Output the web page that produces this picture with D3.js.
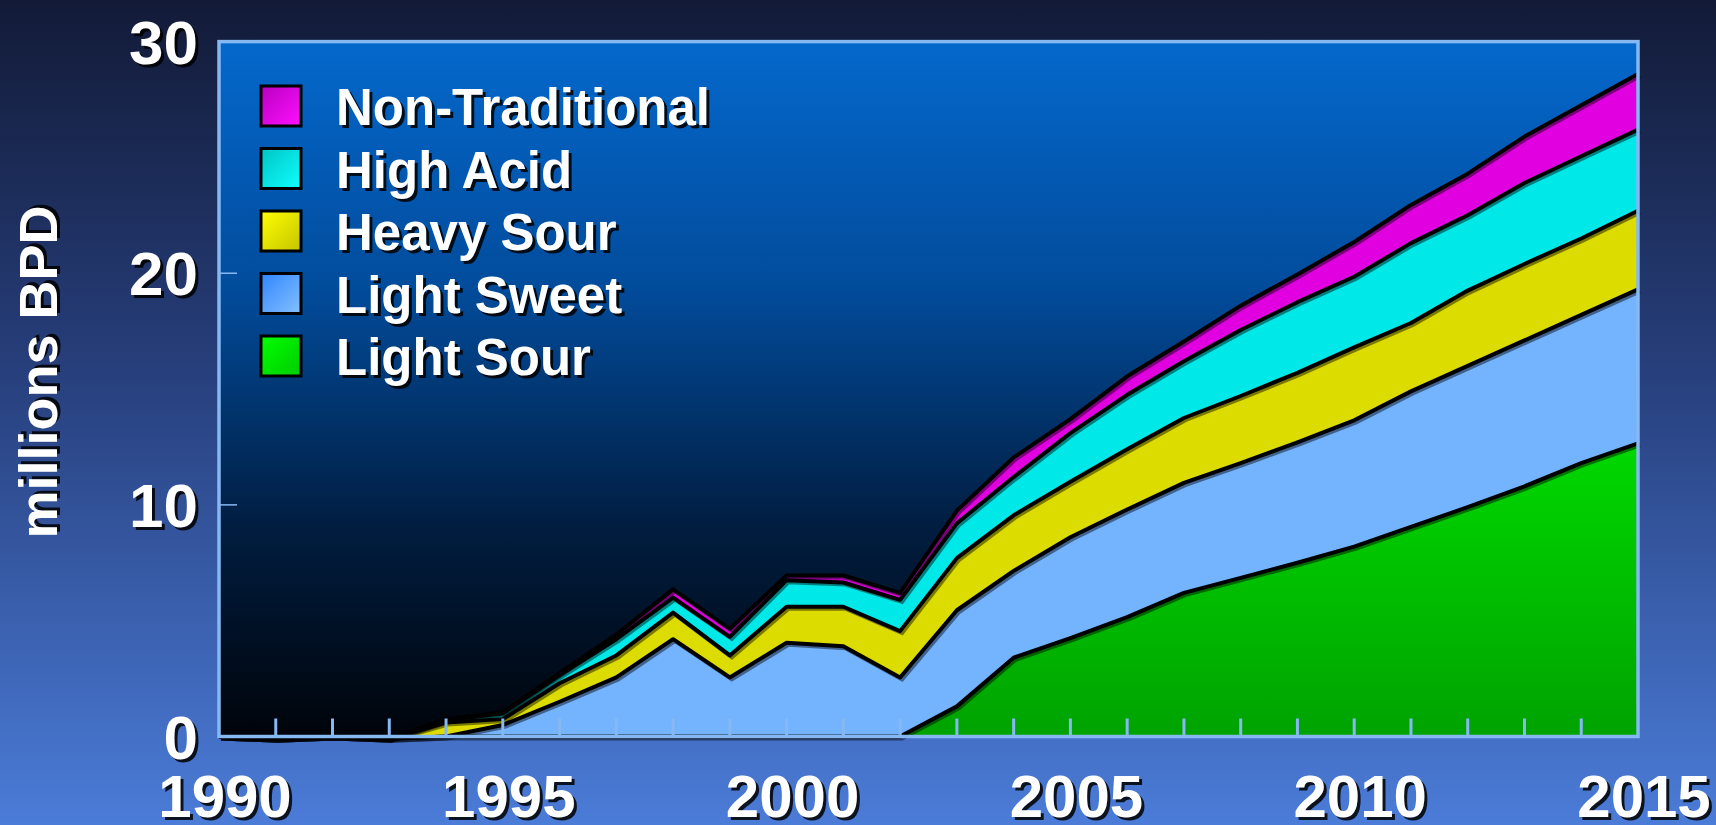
<!DOCTYPE html>
<head>
    <title>Crude supply by type</title>
    <script src="https://cdn.jsdelivr.net/npm/d3@7"></script>
</head>
<style>
html, body {
  margin: 0;
  padding: 0;
  overflow: hidden;
}
body {
  font-family: "Liberation Sans", Arial, Helvetica, sans-serif;
}
</style>
<body>
    <svg id="chart"></svg>
</body>

<script>

    // Data (millions BPD)
    var years = [1990, 1991, 1992, 1993, 1994, 1995, 1996, 1997, 1998, 1999, 2000, 2001, 2002,
                 2003, 2004, 2005, 2006, 2007, 2008, 2009, 2010, 2011, 2012, 2013, 2014, 2015];
    var lightSour     = [0, -0.1, 0, -0.1, 0, 0, 0, 0, 0, 0, 0, 0, 0,
                         1.3, 3.4, 4.25, 5.15, 6.2, 6.85, 7.5, 8.2, 9.05, 9.9, 10.8, 11.8, 12.65];
    var lightSweet    = [0, 0, 0, 0, 0, 0.5, 1.5, 2.55, 4.2, 2.55, 4.05, 3.9, 2.55,
                         4.15, 3.75, 4.35, 4.65, 4.75, 4.95, 5.2, 5.45, 5.85, 6.1, 6.3, 6.4, 6.65];
    var heavySour     = [0, 0, 0, 0, 0.6, 0.25, 0.8, 0.95, 1.15, 0.95, 1.55, 1.7, 2.0,
                         2.25, 2.4, 2.4, 2.6, 2.8, 2.9, 3.0, 3.15, 2.95, 3.25, 3.3, 3.3, 3.4];
    var highAcid      = [0, 0, 0, 0, 0.1, 0.25, 0.35, 0.7, 0.65, 0.8, 1.15, 1.05, 1.35,
                         1.5, 1.65, 2.1, 2.35, 2.45, 2.85, 3.05, 3.05, 3.45, 3.25, 3.5, 3.55, 3.5];
    var nonTraditional = [0, 0, 0, 0, 0.05, 0.05, 0.1, 0.2, 0.35, 0.35, 0.2, 0.3, 0.3,
                          0.55, 0.85, 0.6, 0.8, 0.85, 1.05, 1.2, 1.5, 1.65, 1.8, 2.0, 2.2, 2.4];

    var seriesNames = ["Light Sour", "Light Sweet", "Heavy Sour", "High Acid", "Non-Traditional"];
    var seriesKeys  = ["lightSour", "lightSweet", "heavySour", "highAcid", "nonTraditional"];
    var yTicks = [0, 10, 20, 30];
    var xLabels = [1990, 1995, 2000, 2005, 2010, 2015];

    // build rows for d3.stack
    var rows = years.map(function (yr, i) {
        return {
            year: yr,
            lightSour: lightSour[i],
            lightSweet: lightSweet[i],
            heavySour: heavySour[i],
            highAcid: highAcid[i],
            nonTraditional: nonTraditional[i]
        };
    });

    var width = 1716;
    var height = 825;

    var svg = d3.select('#chart')
        .attr('width', width)
        .attr('height', height);

    var defs = svg.append('defs');

    // page background
    var bg = defs.append('linearGradient').attr('id', 'pageBg')
        .attr('x1', 0).attr('y1', 0).attr('x2', 0).attr('y2', 1);
    bg.append('stop').attr('offset', '0%').attr('stop-color', '#121a37');
    bg.append('stop').attr('offset', '45%').attr('stop-color', '#273f7c');
    bg.append('stop').attr('offset', '100%').attr('stop-color', '#4b7cd8');

    // plot background
    var pbg = defs.append('linearGradient').attr('id', 'plotBg')
        .attr('x1', 0).attr('y1', 0).attr('x2', 0).attr('y2', 1);
    pbg.append('stop').attr('offset', '0%').attr('stop-color', '#0468cc');
    pbg.append('stop').attr('offset', '35%').attr('stop-color', '#024c9c');
    pbg.append('stop').attr('offset', '70%').attr('stop-color', '#011d40');
    pbg.append('stop').attr('offset', '100%').attr('stop-color', '#00040a');

    var greenGrad = defs.append('linearGradient').attr('id', 'greenFill')
        .attr('x1', 0).attr('y1', 0).attr('x2', 0).attr('y2', 1);
    greenGrad.append('stop').attr('offset', '0%').attr('stop-color', '#00d800');
    greenGrad.append('stop').attr('offset', '100%').attr('stop-color', '#00a200');

    var areaFill = ['url(#greenFill)', '#74b4ff', '#dcdc00', '#00e8e8', '#e000e0'];

    // legend swatch gradients [top-left, bottom-right]
    var swatchStops = [
        ['#00ff00', '#00cc00'],
        ['#2f86ff', '#86c0ff'],
        ['#ffff00', '#c4c400'],
        ['#00c4c4', '#10ffff'],
        ['#b800c0', '#ff10ff']
    ];
    swatchStops.forEach(function (s, i) {
        var g = defs.append('linearGradient').attr('id', 'sw' + i)
            .attr('x1', 0).attr('y1', 0).attr('x2', 1).attr('y2', 1);
        g.append('stop').attr('offset', '0%').attr('stop-color', s[0]);
        g.append('stop').attr('offset', '100%').attr('stop-color', s[1]);
    });

    svg.append('rect')
        .attr('width', width).attr('height', height)
        .attr('fill', 'url(#pageBg)');

    // scales
    var x = d3.scaleLinear().domain([1990, 2015]).range([219, 1638]);
    var y = d3.scaleLinear().domain([0, 30]).range([736.5, 41.6]);

    svg.append('rect')
        .attr('x', x(1990)).attr('y', y(30))
        .attr('width', x(2015) - x(1990)).attr('height', y(0) - y(30))
        .attr('fill', 'url(#plotBg)');

    // stacked areas
    var stack = d3.stack().keys(seriesKeys);
    var layers = stack(rows);

    var area = d3.area()
        .x(function (d) { return x(d.data.year); })
        .y0(function (d) { return y(d[0]); })
        .y1(function (d) { return y(d[1]); });

    var topLine = d3.line()
        .x(function (d) { return x(d.data.year); })
        .y(function (d) { return y(d[1]); });

    var plot = svg.append('g');

    plot.selectAll('path.layer')
        .data(layers)
        .enter().append('path')
        .attr('class', 'layer')
        .attr('d', area)
        .attr('fill', function (d, i) { return areaFill[i]; });

    // soft shadow under each boundary line, then the black line
    plot.selectAll('path.shadow')
        .data(layers)
        .enter().append('path')
        .attr('class', 'shadow')
        .attr('d', topLine)
        .attr('transform', 'translate(2,2)')
        .attr('fill', 'none')
        .attr('stroke', '#000')
        .attr('stroke-opacity', 0.45)
        .attr('stroke-width', 4);

    plot.selectAll('path.edge')
        .data(layers)
        .enter().append('path')
        .attr('class', 'edge')
        .attr('d', topLine)
        .attr('fill', 'none')
        .attr('stroke', '#000')
        .attr('stroke-width', 4)
        .attr('stroke-linejoin', 'round');

    // frame + ticks
    var frameColor = '#86b8f2';
    svg.append('rect')
        .attr('x', x(1990)).attr('y', y(30))
        .attr('width', x(2015) - x(1990)).attr('height', y(0) - y(30))
        .attr('fill', 'none')
        .attr('stroke', frameColor)
        .attr('stroke-width', 3.5);

    var innerYears = years.filter(function (yr) { return yr > 1990 && yr < 2015; });
    svg.selectAll('line.xtick')
        .data(innerYears)
        .enter().append('line')
        .attr('class', 'xtick')
        .attr('x1', function (d) { return x(d); })
        .attr('x2', function (d) { return x(d); })
        .attr('y1', y(0))
        .attr('y2', y(0) - 18)
        .attr('stroke', frameColor)
        .attr('stroke-width', 3);

    svg.selectAll('line.ytick')
        .data(yTicks.filter(function (v) { return v > 0 && v < 30; }))
        .enter().append('line')
        .attr('class', 'ytick')
        .attr('x1', x(1990))
        .attr('x2', x(1990) + 18)
        .attr('y1', function (d) { return y(d); })
        .attr('y2', function (d) { return y(d); })
        .attr('stroke', frameColor)
        .attr('stroke-width', 1.5);

    // white bold text with a dark drop shadow
    function shadowText(parent, txt, px, py, size, anchor, rot) {
        var g = parent.append('g')
            .attr('transform', 'translate(' + px + ',' + py + ')' + (rot ? 'rotate(' + rot + ')' : ''));
        [['#000', 3], ['#fff', 0]].forEach(function (c) {
            g.append('text')
                .attr('x', c[1]).attr('y', c[1])
                .attr('text-anchor', anchor)
                .attr('font-size', size)
                .attr('font-weight', 'bold')
                .attr('fill', c[0])
                .attr('fill-opacity', c[0] === '#000' ? 0.85 : 1)
                .text(txt);
        });
    }

    // y axis labels
    yTicks.forEach(function (v) {
        shadowText(svg, v, 198, y(v) + 22, 62, 'end');
    });

    // x axis labels
    xLabels.forEach(function (yr) {
        shadowText(svg, yr, x(yr) + 6, 817, 60, 'middle');
    });

    // y title
    shadowText(svg, 'millions BPD', 57, 372, 54, 'middle', -90);

    // legend (top row = top layer)
    var legendRows = seriesNames.map(function (n, i) { return { name: n, idx: i }; }).reverse();
    legendRows.forEach(function (r, k) {
        var cy = 106 + k * 62.5;
        svg.append('rect')
            .attr('x', 261).attr('y', cy - 20)
            .attr('width', 40).attr('height', 40)
            .attr('fill', 'url(#sw' + r.idx + ')')
            .attr('stroke', '#000')
            .attr('stroke-width', 3);
        shadowText(svg, r.name, 336, cy + 19, 51, 'start');
    });

</script>
